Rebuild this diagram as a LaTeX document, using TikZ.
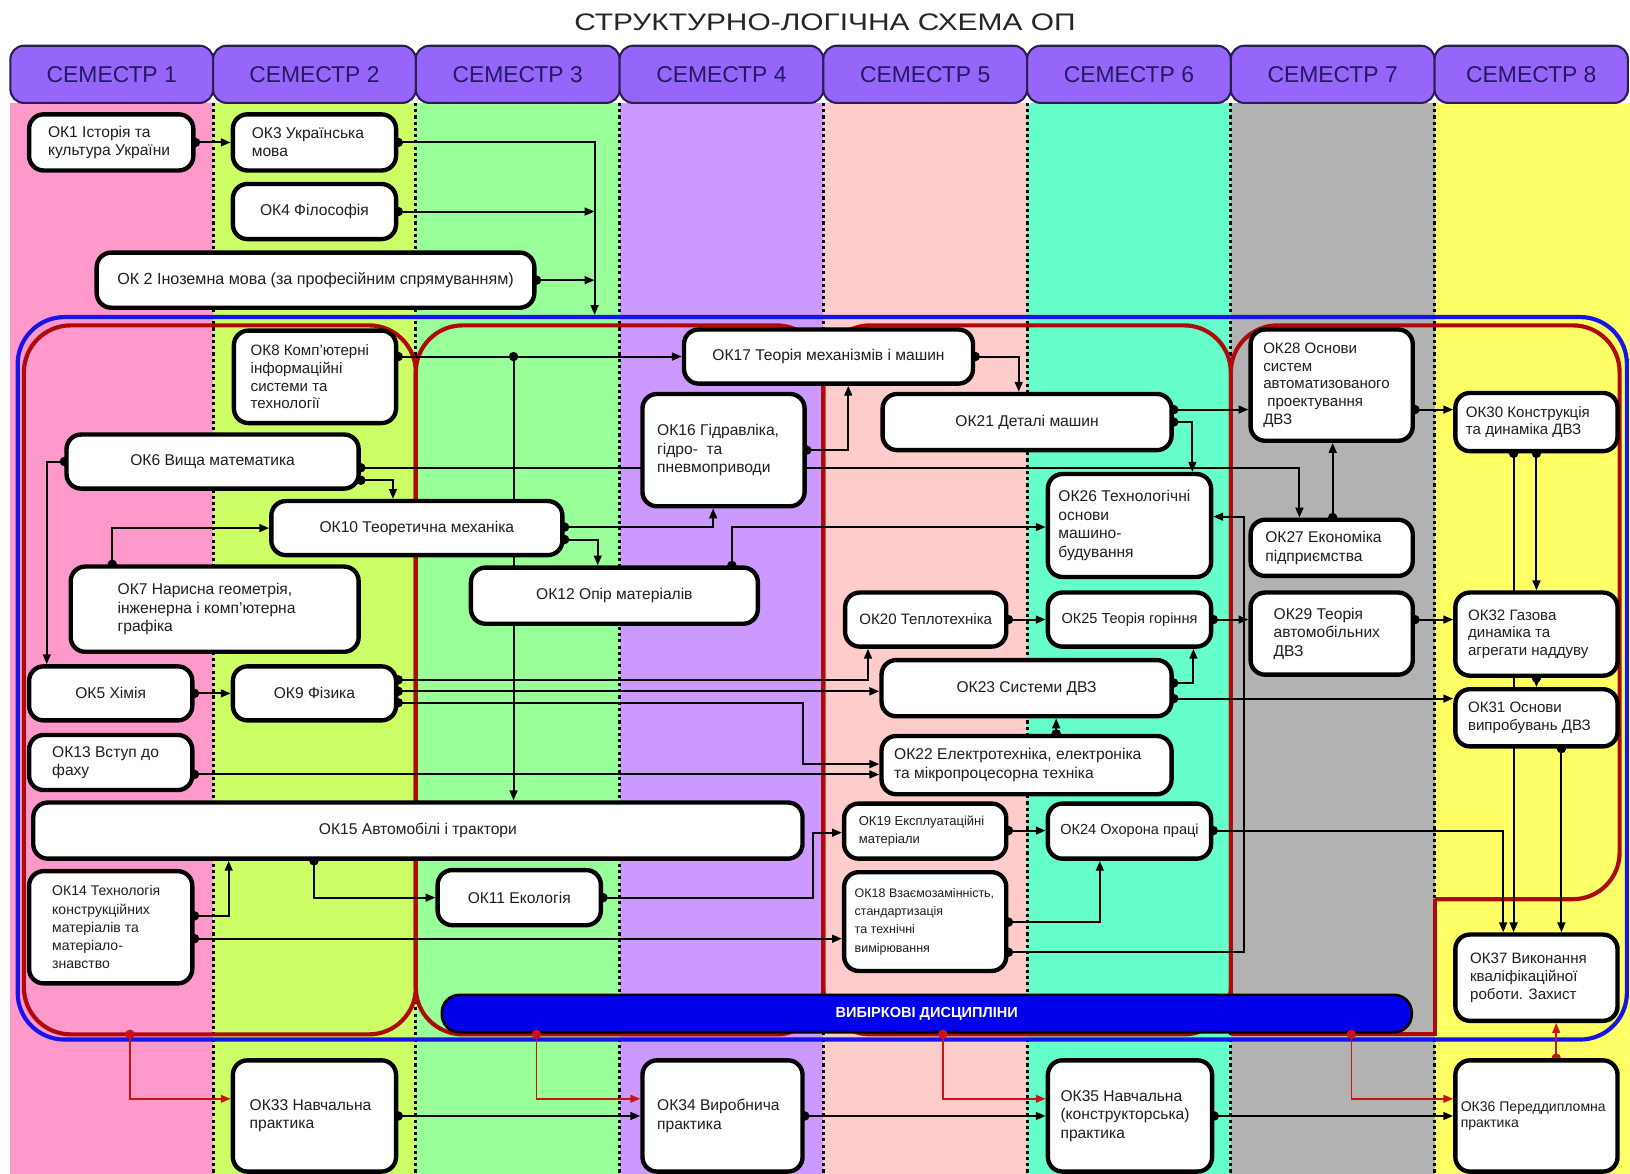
\documentclass[tikz,border=0pt]{standalone}
\usepackage{fontspec}
\setmainfont{Liberation Sans}
\usepackage{graphicx}
\usetikzlibrary{arrows.meta}
\definecolor{hdr}{RGB}{150,102,250}
\definecolor{hdrline}{RGB}{40,30,80}
\definecolor{hdrtxt}{RGB}{35,25,100}
\definecolor{cA}{RGB}{255,153,204}
\definecolor{cB}{RGB}{204,255,102}
\definecolor{cC}{RGB}{153,255,153}
\definecolor{cD}{RGB}{204,153,255}
\definecolor{cE}{RGB}{255,204,204}
\definecolor{cF}{RGB}{102,255,204}
\definecolor{cG}{RGB}{178,178,178}
\definecolor{cH}{RGB}{255,255,102}
\definecolor{grpred}{RGB}{175,10,10}
\definecolor{grpblue}{RGB}{20,20,235}
\definecolor{arrred}{RGB}{200,20,20}
\definecolor{barblue}{RGB}{0,0,235}
\definecolor{txtc}{RGB}{30,30,30}
\pgfdeclarelayer{bg}
\pgfdeclarelayer{conn}
\pgfsetlayers{bg,conn,main}
\tikzset{
  box/.style={draw=black, fill=white, line width=4.2pt, rounded corners=14pt, inner sep=0pt},
  txt/.style={inner sep=0pt, text=txtc},
  cn/.style={line width=1.9pt, {Circle[length=9pt]}-{Triangle[length=9.5pt,width=7.5pt]}, shorten <=-4.5pt},
  cnn/.style={line width=1.9pt, -{Triangle[length=9.5pt,width=7.5pt]}},
  rcn/.style={draw=arrred, line width=1.7pt, {Circle[length=9pt]}-{Triangle[length=9.5pt,width=7.5pt]}, shorten <=-4.5pt},
  dotline/.style={line width=3pt, dash pattern=on 3pt off 3pt},
  grp/.style={draw=grpred, line width=4pt, rounded corners=45pt},
  hdrbox/.style={draw=hdrline, fill=hdr, line width=2pt, rounded corners=13pt, text=hdrtxt, font=\fontsize{22}{24}\selectfont},
}
\def\bxf{1.18}
\newcommand\bx[9]{%
  \pgfmathsetmacro\bxw{#4-#2}%
  \pgfmathsetmacro\bxh{#5-#3}%
  \pgfmathsetmacro\bxcx{(#2+#4)/2}%
  \pgfmathsetmacro\bxcy{(#3+#5)/2}%
  \pgfmathsetmacro\bxl{#2+#6}%
  \pgfmathsetmacro\bxb{#8*\bxf}%
  \node[box, minimum width=\bxw pt, minimum height=\bxh pt] (#1) at (\bxcx,\bxcy) {};%
  \if c#7%
    \node[txt, align=center, font={\fontsize{#8pt}{\bxb pt}\selectfont}] at (#1.center) {#9};%
  \else
    \node[txt, align=left, anchor=west, font={\fontsize{#8pt}{\bxb pt}\selectfont}] at (\bxl,\bxcy) {#9};%
  \fi}
\begin{document}
\begin{tikzpicture}[x=1pt,y=-1pt]
\path[use as bounding box] (0,0) rectangle (1568,1129);
\foreach \v in {45,108,125,220,302,303,343,378,394,406,450,462,494,497,507,516,519,572,575,596,654,657,665,672,676,686,704,735,745,772,782,799,801,816,835,881,887,903,907,916,980,995,1016,1057,1058,1147,1148,1197,1250,1282,1300,1446,1456,1478,1497,1502}
  {\coordinate (x\v) at (\v,0); \coordinate (y\v) at (0,\v);}
\begin{pgfonlayer}{bg}
\fill[white] (0,0) rectangle (1568,1129);
\fill[cA] (10,99) rectangle (205,1129);
\fill[cB] (205,99) rectangle (400,1129);
\fill[cC] (400,99) rectangle (596,1129);
\fill[cD] (596,99) rectangle (792,1129);
\fill[cE] (792,99) rectangle (988,1129);
\fill[cF] (988,99) rectangle (1184,1129);
\fill[cG] (1184,99) rectangle (1380,1129);
\fill[cH] (1380,99) rectangle (1568,1129);
\foreach \x in {205,400,596,792,988,1184,1380} \draw[dotline] (\x,99) -- (\x,1129);
\foreach \i/\a/\b in {1/10/205,2/205/400,3/400/596,4/596/792,5/792/988,6/988/1184,7/1184/1380,8/1380/1566}{%
  \pgfmathsetmacro\hw{\b-\a}\pgfmathsetmacro\hc{(\a+\b)/2}%
  \node[hdrbox, minimum width=\hw pt, minimum height=55pt] (hd\i) at (\hc,71.5) {СЕМЕСТР \i};}
\node[font=\fontsize{23}{26}\selectfont, text=black!85] (title) at (793.5,21) {\scalebox{1.25}[1]{СТРУКТУРНО-ЛОГІЧНА СХЕМА ОП}};
\draw[draw=grpblue, line width=4pt, rounded corners=45pt] (17,305) rectangle (1565,1000);
\draw[grp] (23,313) rectangle (400,995);
\draw[grp] (400,313) rectangle (792,995);
\draw[grp] (792,313) rectangle (1184,995);
\draw[grp] (1184,995) -- (1184,313) -- (1558,313) -- (1558,865) -- (1380,865);
\draw[draw=grpred, line width=4pt] (1380,865) -- (1380,995) -- (1184,995);
\node[draw=black, fill=barblue, line width=2.5pt, rounded corners=17pt, minimum width=933pt, minimum height=36pt, text=white, font=\bfseries\fontsize{14}{16}\selectfont] (bar) at (891.5,975) {ВИБІРКОВІ ДИСЦИПЛІНИ};
\end{pgfonlayer}

\bx{ok1}{28}{110}{186}{164}{18}{l}{15}{ОК1 Історія та\\культура України}
\bx{ok3}{224}{110}{381}{164}{18}{l}{15}{ОК3 Українська\\мова}
\bx{ok4}{224}{177}{381}{230}{0}{c}{15}{ОК4 Філософія}
\bx{ok2}{93}{243}{514}{296}{0}{c}{15.5}{ОК 2 Іноземна мова (за професійним спрямуванням)}
\bx{ok8}{225}{318}{381}{407}{16}{l}{14.5}{ОК8 Комп'ютерні\\інформаційні\\системи та\\технології}
\bx{ok17}{658}{317}{936}{369}{0}{c}{15}{ОК17 Теорія механізмів і машин}
\bx{ok16}{618}{379}{774}{487}{14}{l}{15}{ОК16 Гідравліка,\\гідро-\ \ та\\пневмоприводи}
\bx{ok6}{64}{418}{345}{470}{0}{c}{15}{ОК6 Вища математика}
\bx{ok10}{261}{482}{541}{534}{0}{c}{15}{ОК10 Теоретична механіка}
\bx{ok7}{68}{545}{345}{627}{45}{l}{15}{ОК7 Нарисна геометрія,\\інженерна і комп'ютерна\\графіка}
\bx{ok12}{453}{546}{729}{600}{0}{c}{15}{ОК12 Опір матеріалів}
\bx{ok21}{849}{379}{1127}{433}{0}{c}{15}{ОК21 Деталі машин}
\bx{ok28}{1203}{317}{1359}{424}{12}{l}{14.5}{ОК28 Основи\\систем\\автоматизованого\\\hspace*{4pt}проектування\\ДВЗ}
\bx{ok26}{1008}{456}{1165}{555}{10}{l}{15}{ОК26 Технологічні\\основи\\машино-\\будування}
\bx{ok27}{1203}{500}{1359}{554}{14}{l}{15}{ОК27 Економіка\\підприємства}
\bx{ok30}{1400}{378}{1556}{434}{10}{l}{14.5}{ОК30 Конструкція\\та динаміка ДВЗ}
\bx{ok20}{813}{570}{968}{622}{0}{c}{14.5}{ОК20 Теплотехніка}
\bx{ok25}{1008}{570}{1165}{622}{0}{c}{14}{ОК25 Теорія горіння}
\bx{ok29}{1203}{570}{1359}{649}{22}{l}{15}{ОК29 Теорія\\автомобільних\\ДВЗ}
\bx{ok32}{1400}{570}{1556}{650}{12}{l}{14.5}{ОК32 Газова\\динаміка та\\агрегати наддуву}
\bx{ok31}{1400}{663}{1556}{718}{12}{l}{14.5}{ОК31 Основи\\випробувань ДВЗ}
\bx{ok37}{1400}{899}{1556}{982}{14}{l}{14.5}{ОК37 Виконання\\кваліфікаційної\\роботи. Захист}
\bx{ok23}{848}{635}{1127}{689}{0}{c}{15}{ОК23 Системи ДВЗ}
\bx{ok22}{848}{708}{1127}{764}{12}{l}{15}{ОК22 Електротехніка, електроніка\\та мікропроцесорна техніка}
\bx{ok5}{28}{641}{185}{693}{0}{c}{15}{ОК5 Хімія}
\bx{ok9}{224}{641}{381}{693}{0}{c}{15}{ОК9 Фізика}
\bx{ok13}{28}{707}{185}{760}{22}{l}{15}{ОК13 Вступ до\\фаху}
\bx{ok15}{32}{772}{772}{826}{0}{c}{15}{ОК15 Автомобілі і трактори}
\def\bxf{1.3}
\bx{ok14}{28}{838}{185}{946}{22}{l}{13.5}{ОК14 Технологія\\конструкційних\\матеріалів та\\матеріало-\\знавство}
\def\bxf{1.18}
\bx{ok11}{421}{837}{578}{890}{0}{c}{15}{ОК11 Екологія}
\def\bxf{1.4}
\bx{ok19}{812}{773}{968}{826}{14}{l}{12.5}{ОК19 Експлуатаційні\\матеріали}
\def\bxf{1.47}
\bx{ok18}{812}{839}{968}{934}{10}{l}{12}{ОК18 Взаємозамінність,\\стандартизація\\та технічні\\вимірювання}
\def\bxf{1.18}
\bx{ok24}{1008}{773}{1165}{826}{0}{c}{14}{ОК24 Охорона праці}
\bx{ok33}{224}{1020}{381}{1127}{16}{l}{15}{ОК33 Навчальна\\практика}
\bx{ok34}{618}{1020}{772}{1127}{14}{l}{15}{ОК34 Виробнича\\практика}
\bx{ok35}{1008}{1020}{1166}{1127}{12}{l}{15}{ОК35 Навчальна\\(конструкторська)\\практика}
\bx{ok36}{1400}{1020}{1556}{1127}{5}{l}{13.5}{ОК36 Переддипломна\\практика}

\begin{pgfonlayer}{conn}
\draw[cn] (ok1.east) -- (ok3.west);
\draw[cn] (ok3.east) -| (x572|-y303);
\draw[cn] (ok4.east) -- (ok4.east-|x572);
\draw[cn] (ok2.east) -- (ok2.east-|x572);
\draw[cn] (ok8.east|-ok17.west) -- (ok17.west);
\fill (x494|-ok17.west) circle[radius=4.5pt];
\draw[cnn] (x494|-ok17.west) -- (ok15.north-|x494);
\draw[cn] (ok17.east) -| (ok21.north-|x980);
\draw[cn] (ok16.east) -| (ok17.south-|x816);
\draw[cn] (ok6.west) -| (ok5.north-|x45);
\draw[cn] (ok6.east|-y450) -| (ok27.north-|x1250);
\draw[cn] (ok6.east|-y462) -| (ok10.north-|x378);
\draw[cn] (ok7.north-|x108) |- (ok10.west);
\draw[cn] (ok10.east|-y507) -| (ok16.south-|x686);
\draw[cn] (ok10.east|-y519) -| (ok12.north-|x575);
\draw[cn] (ok12.north-|x704) |- (ok26.west|-y507);
\draw[cn] (ok21.east|-y394) -- (ok28.west|-y394);
\draw[cn] (ok21.east|-y406) -| (ok26.north-|x1147);
\draw[cn] (ok28.east|-y394) -- (ok30.west|-y394);
\draw[cn] (ok27.north-|x1282) -- (ok28.south-|x1282);
\draw[cn] (ok18.east|-y916) -| (x1197|-y497) -- (ok26.east|-y497);
\draw[cn] (ok20.east) -- (ok25.west);
\draw[cn] (ok25.east) -- (ok29.west|-ok25.east);
\draw[cn] (ok29.east|-y596) -- (ok32.west|-y596);
\draw[cn] (ok30.south-|x1478) -- (ok32.north-|x1478);
\draw[cn] (ok30.south-|x1456) -- (ok37.north-|x1456);
\draw[cn] (ok32.south-|x1478) -- (ok31.north-|x1478);
\draw[cn] (ok31.south-|x1502) -- (ok37.north-|x1502);
\draw[cn] (ok23.east|-y657) -| (ok25.south-|x1148);
\draw[cn] (ok23.east|-y672) -- (ok31.west|-y672);
\draw[cn] (ok22.north-|x1016) -- (ok23.south-|x1016);
\draw[cn] (ok5.east) -- (ok9.west);
\draw[cn] (ok9.east|-y654) -| (ok20.south-|x835);
\draw[cn] (ok9.east|-y665) -- (ok23.west|-y665);
\draw[cn] (ok9.east|-y676) -| (x772|-y735) -- (ok22.west|-y735);
\draw[cn] (ok13.east|-y745) -- (ok22.west|-y745);
\draw[cn] (ok14.east|-y881) -| (ok15.south-|x220);
\draw[cn] (ok14.east|-y903) -- (ok18.west|-y903);
\draw[cn] (ok15.south-|x302) |- (ok11.west);
\draw[cn] (ok11.east) -| (x782|-y801) -- (ok19.west|-y801);
\draw[cn] (ok19.east|-y799) -- (ok24.west|-y799);
\draw[cn] (ok24.east|-y799) -| (ok37.north-|x1446);
\draw[cn] (ok18.east|-y887) -| (ok24.south-|x1058);
\draw[cn] (ok33.east) -- (ok34.west);
\draw[cn] (ok34.east) -- (ok35.west);
\draw[cn] (ok35.east) -- (ok36.west);
\draw[rcn] (x125|-y995) |- (ok33.west|-y1057);
\draw[rcn] (x516|-y995) |- (ok34.west|-y1057);
\draw[rcn] (x907|-y995) |- (ok35.west|-y1057);
\draw[rcn] (x1300|-y995) |- (ok36.west|-y1057);
\draw[rcn] (ok36.north-|x1497) -- (ok37.south-|x1497);
\end{pgfonlayer}
\end{tikzpicture}
\end{document}
